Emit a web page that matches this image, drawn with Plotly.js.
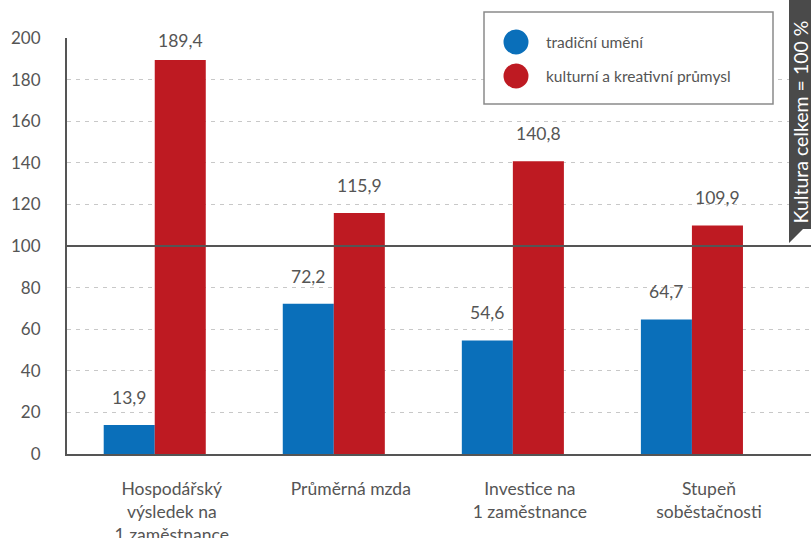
<!DOCTYPE html>
<html>
<head>
<meta charset="utf-8">
<script src="https://cdn.plot.ly/plotly-3.0.1.min.js"></script>
<style>html,body{margin:0;padding:0;background:#fff;}#chart{width:811px;height:538px;}</style>
</head>
<body>
<div id="chart"></div>
<script>
const categories = ["Hospodářský<br>výsledek na<br>1 zaměstnance", "Průměrná mzda", "Investice na<br>1 zaměstnance", "Stupeň<br>soběstačnosti"];
const seriesNames = ["tradiční umění", "kulturní a kreativní průmysl"];
const tradicniUmeni = [13.9, 72.2, 54.6, 64.7];
const kreativniPrumysl = [189.4, 115.9, 140.8, 109.9];
const yTicks = [0, 20, 40, 60, 80, 100, 120, 140, 160, 180, 200];
const referenceLabel = "Kultura celkem = 100 %";
const referenceValue = 100;

const colors = ["#0a6fba", "#be1a22"];
const fontFam = "Lato, 'Open Sans', sans-serif";
const gray = "#555555";

const xIdx = categories.map((c, i) => i);

const traces = [
  {type: "bar", name: seriesNames[0], x: xIdx, y: tradicniUmeni, marker: {color: colors[0]}, showlegend: false, hoverinfo: "y"},
  {type: "bar", name: seriesNames[1], x: xIdx, y: kreativniPrumysl, marker: {color: colors[1]}, showlegend: false, hoverinfo: "y"}
];

const fmt = v => v.toFixed(1).replace(".", ",");
const annotations = [];
const off = 0.143;
// labels near the top of the plot sit closer to their bar
const shiftFor = v => (v > 180 ? 7 : 15);
tradicniUmeni.forEach((v, i) => annotations.push({x: i - off, y: v, xref: "x", yref: "y", text: fmt(v), showarrow: false, yanchor: "bottom", yshift: shiftFor(v), font: {size: 17.5, color: gray, family: fontFam}}));
kreativniPrumysl.forEach((v, i) => annotations.push({x: i + off, y: v, xref: "x", yref: "y", text: fmt(v), showarrow: false, yanchor: "bottom", yshift: shiftFor(v), font: {size: 17.5, color: gray, family: fontFam}}));

// legend (manual, circle markers)
const W = 811, H = 538, L = 67, T = 38, B = 84;
const px = x => (x - L) / (W - L);
const py = y => (H - B - y) / (H - B - T);
const shapes = [
  {type: "line", xref: "paper", yref: "y", x0: 0, x1: 1, y0: referenceValue, y1: referenceValue, line: {color: gray, width: 2}, layer: "above"},
  {type: "rect", xref: "paper", yref: "paper", x0: px(484), x1: px(773), y0: py(12), y1: py(104), line: {color: "#8a8a8a", width: 1.5}, fillcolor: "#ffffff", layer: "above"},
  {type: "path", xref: "paper", yref: "paper", path: `M${px(789)},${py(0)} L${px(811)},${py(0)} L${px(811)},${py(229)} L${px(803)},${py(229)} L${px(789)},${py(243)} Z`, fillcolor: "#4a4a4a", line: {width: 0}, layer: "above"}
];
[42, 76].forEach((yy, i) => {
  shapes.push({type: "circle", xref: "paper", yref: "paper", xsizemode: "pixel", ysizemode: "pixel", xanchor: px(516), yanchor: py(yy), x0: -12.5, x1: 12.5, y0: -12.5, y1: 12.5, fillcolor: colors[i], line: {width: 0}, layer: "above"});
  annotations.push({xref: "paper", yref: "paper", x: px(544), y: py(yy), xanchor: "left", yanchor: "middle", text: seriesNames[i], showarrow: false, font: {size: 15.5, color: gray, family: fontFam}});
});
annotations.push({xref: "paper", yref: "paper", x: px(800.5), y: py(122), text: referenceLabel, textangle: -90, showarrow: false, xanchor: "center", yanchor: "middle", font: {size: 19.5, color: "#ffffff", family: fontFam}});

const layout = {
  width: W, height: H,
  margin: {l: L, r: 0, t: T, b: B},
  paper_bgcolor: "#ffffff", plot_bgcolor: "#ffffff",
  font: {family: fontFam, color: gray},
  barmode: "group", bargap: 0.43, bargroupgap: 0,
  showlegend: false,
  xaxis: {
    range: [-0.49, 3.665], tickmode: "array", tickvals: xIdx, ticktext: categories,
    showgrid: false, zeroline: false, showline: true, linecolor: gray, linewidth: 2,
    ticks: "", tickfont: {size: 17.5, color: gray, family: fontFam}, ticklabelshift: 17, ticklabelstandoff: 18
  },
  yaxis: {
    range: [0, 200], tickmode: "array", tickvals: yTicks, ticktext: yTicks.map(String),
    showgrid: true, gridcolor: "#c8c8c8", griddash: "4px,5px", gridwidth: 1,
    zeroline: false, showline: true, linecolor: gray, linewidth: 2,
    ticks: "", tickfont: {size: 17, color: gray, family: fontFam}, ticklabelstandoff: 21
  },
  shapes: shapes,
  annotations: annotations
};

Plotly.newPlot("chart", traces, layout, {displayModeBar: false, staticPlot: true});
</script>
</body>
</html>
